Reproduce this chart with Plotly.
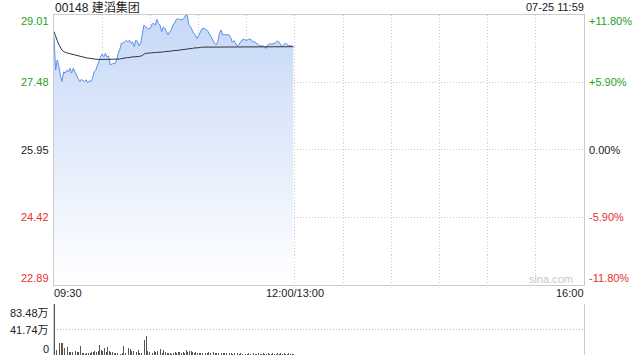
import plotly.graph_objects as go

# ---------------- data ----------------
title_text = "00148 建滔集团"
date_text = "07-25 11:59"
prev_close = 25.95

price = [28.51, 27.75, 27.98, 27.85, 27.62, 27.49, 27.71, 27.68, 27.75, 27.71,
         27.79, 27.68, 27.79, 27.70, 27.62, 27.56, 27.49, 27.54, 27.51, 27.49,
         27.53, 27.46, 27.51, 27.49, 27.56, 27.71, 27.75, 27.83, 27.95, 28.05,
         28.11, 28.05, 28.13, 28.05, 28.07, 27.87, 27.89, 27.90, 27.90, 27.98,
         28.13, 28.22, 28.36, 28.36, 28.39, 28.42, 28.39, 28.43, 28.36, 28.39,
         28.28, 28.43, 28.39, 28.30, 28.36, 28.55, 28.77, 28.73, 28.70, 28.68,
         28.70, 28.79, 28.81, 28.77, 28.90, 28.81, 28.77, 28.62, 28.73, 28.70,
         28.62, 28.55, 28.62, 28.66, 28.77, 28.81, 28.89, 28.92, 28.89, 28.90,
         28.89, 28.93, 29.00, 28.99, 28.77, 28.73, 28.66, 28.58, 28.55, 28.47,
         28.52, 28.62, 28.68, 28.70, 28.68, 28.66, 28.62, 28.55, 28.47, 28.43,
         28.36, 28.32, 28.40, 28.58, 28.66, 28.55, 28.55, 28.55, 28.55, 28.55,
         28.49, 28.38, 28.42, 28.37, 28.30, 28.32, 28.38, 28.43, 28.45, 28.43,
         28.42, 28.45, 28.45, 28.43, 28.39, 28.39, 28.36, 28.32, 28.30, 28.30,
         28.30, 28.28, 28.24, 28.32, 28.34, 28.34, 28.34, 28.35, 28.37, 28.41,
         28.39, 28.33, 28.28, 28.33, 28.36, 28.34, 28.30, 28.31, 28.29, 28.28]

avg_price = [28.62, 28.50, 28.42, 28.33, 28.26, 28.20, 28.17, 28.15, 28.14, 28.13,
             28.12, 28.11, 28.10, 28.09, 28.08, 28.07, 28.06, 28.05, 28.05, 28.04,
             28.03, 28.02, 28.02, 28.01, 28.01, 28.00, 28.00, 27.99, 27.99, 27.99,
             27.99, 27.99, 27.99, 27.99, 27.99, 27.99, 27.99, 27.99, 27.99, 27.99,
             28.00, 28.00, 28.01, 28.02, 28.02, 28.03, 28.03, 28.04, 28.04, 28.05,
             28.05, 28.05, 28.06, 28.06, 28.07, 28.08, 28.11, 28.13, 28.13, 28.14,
             28.14, 28.14, 28.15, 28.15, 28.15, 28.15, 28.16, 28.16, 28.16, 28.17,
             28.17, 28.17, 28.18, 28.18, 28.19, 28.19, 28.19, 28.20, 28.20, 28.21,
             28.21, 28.22, 28.22, 28.23, 28.23, 28.24, 28.24, 28.25, 28.25, 28.26,
             28.26, 28.26, 28.27, 28.27, 28.27, 28.27, 28.27, 28.27, 28.28, 28.28,
             28.28, 28.28, 28.28, 28.28, 28.28, 28.28, 28.28, 28.28, 28.28, 28.28,
             28.28, 28.28, 28.28, 28.28, 28.28, 28.28, 28.28, 28.28, 28.28, 28.28,
             28.28, 28.28, 28.28, 28.28, 28.28, 28.28, 28.28, 28.28, 28.28, 28.28,
             28.28, 28.28, 28.28, 28.28, 28.28, 28.28, 28.28, 28.28, 28.28, 28.28,
             28.28, 28.28, 28.28, 28.28, 28.28, 28.28, 28.28, 28.28, 28.28, 28.28]

# volume in 万 shares per minute
volume = [83.48, 8.0, 31.6, 20.0, 20.0, 20.0, 12.0, 14.7, 12.5, 4.4,
          5.5, 5.5, 6.5, 6.5, 5.5, 5.5, 14.7, 2.7, 2.7, 2.2,
          2.7, 2.7, 3.8, 4.9, 4.4, 7.0, 4.4, 7.0, 16.4, 8.2,
          6.5, 10.9, 5.5, 13.6, 6.5, 4.4, 5.5, 3.8, 2.7, 3.8,
          4.4, 1.6, 3.8, 14.7, 2.7, 4.4, 10.9, 9.3, 6.5, 6.5,
          7.0, 4.9, 8.2, 3.3, 2.7, 3.8, 24.6, 31.6, 6.5, 4.9,
          5.5, 3.8, 7.0, 5.5, 7.0, 3.3, 9.3, 2.7, 8.2, 4.4,
          2.7, 3.8, 2.7, 1.6, 2.7, 5.5, 3.8, 4.4, 4.4, 3.8,
          5.5, 3.8, 8.2, 4.9, 6.5, 6.5, 4.4, 3.3, 4.4, 2.7,
          2.7, 2.7, 3.8, 3.3, 2.7, 2.7, 4.4, 3.3, 8.2, 4.4,
          3.8, 3.8, 3.3, 2.7, 3.3, 2.7, 2.7, 3.3, 2.7, 2.7,
          2.7, 2.2, 2.7, 2.2, 2.7, 2.2, 2.7, 2.2, 2.7, 2.2,
          2.2, 2.7, 2.2, 2.2, 2.7, 2.2, 2.2, 2.7, 2.2, 2.2,
          2.7, 2.2, 2.2, 2.7, 2.2, 2.2, 2.7, 2.2, 2.2, 2.7,
          2.2, 3.8, 2.2, 2.7, 2.2, 2.2, 2.7, 2.2, 1.6, 2.2]

price_ticks = [29.01, 27.48, 25.95, 24.42, 22.89]
price_tick_labels = ["29.01", "27.48", "25.95", "24.42", "22.89"]
pct_tick_labels = ["+11.80%", "+5.90%", "0.00%", "-5.90%", "-11.80%"]
vol_ticks = [83.48, 41.74, 0]
vol_tick_labels = ["83.48万", "41.74万", "0"]
time_ticks = [0, 150, 330]
time_tick_labels = ["09:30", "12:00/13:00", "16:00"]
grid_minutes = [30, 60, 90, 120, 150, 180, 210, 240, 270, 300]
total_minutes = 330

minutes = list(range(len(price)))

# ---------------- style ----------------
W, H = 640, 360
FONT = "Liberation Sans, Arial, Noto Sans CJK SC, sans-serif"
GREEN = "#1fa01f"
RED = "#e8302e"
BLACK = "#222222"
GRID = "#cccccc"
LINE_BLUE = "#5a8fea"
DOT = "1px,2px"

x_dom = [54 / W, 584 / W]
y1_dom = [(H - 284.5) / H, (H - 14.5) / H]
y2_dom = [(H - 355) / H, (H - 304) / H]


def ypix(p):
    return (H - p) / H


fig = go.Figure()

fig.add_trace(go.Scatter(
    x=minutes, y=price, mode="lines",
    line=dict(color=LINE_BLUE, width=1),
    fill="tozeroy",
    fillgradient=dict(type="vertical",
                      colorscale=[[0, "rgba(255,255,255,1)"], [1, "#c6d8f7"]],
                      start=price_ticks[-1], stop=price_ticks[0]),
    xaxis="x", yaxis="y", hoverinfo="skip", showlegend=False))

fig.add_trace(go.Scatter(
    x=minutes, y=avg_price, mode="lines",
    line=dict(color="#333333", width=1),
    xaxis="x", yaxis="y", hoverinfo="skip", showlegend=False))

fig.add_trace(go.Bar(
    x=minutes, y=volume, width=0.55,
    marker=dict(color="#555555", line=dict(width=0)),
    xaxis="x2", yaxis="y2", hoverinfo="skip", showlegend=False))

fig.update_layout(
    width=W, height=H,
    margin=dict(l=0, r=0, t=0, b=0),
    paper_bgcolor="white", plot_bgcolor="white",
    showlegend=False, hovermode=False,
    font=dict(family=FONT, size=11, color=BLACK),
    bargap=0,
    xaxis=dict(domain=x_dom, range=[0, total_minutes], anchor="y",
               tickvals=grid_minutes, showticklabels=False, ticks="",
               showgrid=True, gridcolor=GRID, griddash=DOT, gridwidth=1,
               showline=True, mirror=True, linecolor=GRID, linewidth=1,
               zeroline=False, fixedrange=True),
    yaxis=dict(domain=y1_dom, range=[price_ticks[-1], price_ticks[0]], anchor="x",
               tickvals=price_ticks[1:-1], showticklabels=False, ticks="",
               showgrid=True, gridcolor=GRID, griddash=DOT, gridwidth=1,
               showline=True, mirror=True, linecolor=GRID, linewidth=1,
               zeroline=False, fixedrange=True),
    xaxis2=dict(domain=x_dom, range=[-0.5, total_minutes], anchor="y2",
                showticklabels=False, ticks="", showgrid=False,
                showline=False, zeroline=False, fixedrange=True),
    yaxis2=dict(domain=y2_dom, range=[0, vol_ticks[0]], anchor="x2",
                tickvals=vol_ticks, showticklabels=False, ticks="",
                showgrid=True, gridcolor="#bbbbbb", griddash=DOT, gridwidth=1,
                showline=True, mirror=True, linecolor=GRID, linewidth=1,
                zeroline=False, fixedrange=True),
)

ann = []


def color_for(v):
    if v > prev_close + 1e-9:
        return GREEN
    if v < prev_close - 1e-9:
        return RED
    return BLACK


# price labels (left) and percent labels (right)
n = len(price_ticks)
for i, (v, lab, pct) in enumerate(zip(price_ticks, price_tick_labels, pct_tick_labels)):
    shift = -6.5 if i == 0 else (6.5 if i == n - 1 else 0)
    c = color_for(v)
    ann.append(dict(x=51 / W, xref="paper", y=v, yref="y", text=lab,
                    xanchor="right", yanchor="middle", yshift=shift,
                    showarrow=False, font=dict(color=c, size=11)))
    ann.append(dict(x=587 / W, xref="paper", y=v, yref="y", text=pct,
                    xanchor="left", yanchor="middle", yshift=shift,
                    showarrow=False, font=dict(color=c, size=11)))

# volume labels
for i, (v, lab) in enumerate(zip(vol_ticks, vol_tick_labels)):
    shift = -9 if i == 0 else (6 if i == len(vol_ticks) - 1 else 0)
    ann.append(dict(x=51 / W, xref="paper", y=v, yref="y2", text=lab,
                    xanchor="right", yanchor="middle", yshift=shift,
                    showarrow=False, font=dict(color=BLACK, size=11)))

# time labels
anchors = ["left", "center", "right"]
for v, lab, a in zip(time_ticks, time_tick_labels, anchors):
    ann.append(dict(x=v, xref="x", y=ypix(293), yref="paper", text=lab,
                    xanchor=a, yanchor="middle", showarrow=False,
                    xshift=-2 if a == "left" else (2 if a == "right" else 0),
                    font=dict(color=BLACK, size=11)))

# title and date
ann.append(dict(x=53 / W, xref="paper", y=ypix(7), yref="paper", text=title_text,
                xanchor="left", yanchor="middle", showarrow=False,
                font=dict(color=BLACK, size=12)))
ann.append(dict(x=586 / W, xref="paper", y=ypix(7), yref="paper", text=date_text,
                xanchor="right", yanchor="middle", showarrow=False,
                font=dict(color=BLACK, size=11)))
# watermark
ann.append(dict(x=575 / W, xref="paper", y=ypix(279), yref="paper", text="sina.com",
                xanchor="right", yanchor="middle", showarrow=False,
                font=dict(color="#c8c8c8", size=11)))

fig.update_layout(annotations=ann)

fig.write_html("out.html", config={"displayModeBar": False, "staticPlot": True})
